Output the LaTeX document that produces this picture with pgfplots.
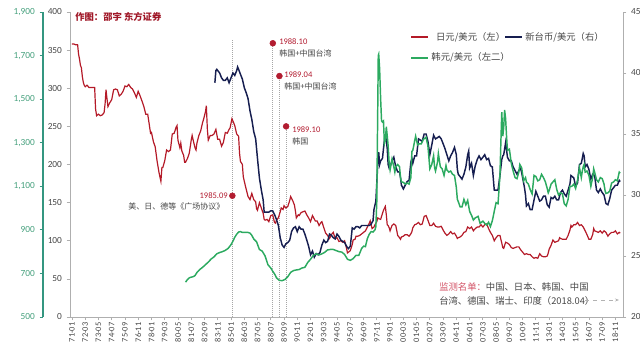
\documentclass[border=0pt]{standalone}
\usepackage{pgfplots}
\pgfplotsset{compat=1.18}
\usepackage{pgfplotstable}
\usetikzlibrary{arrows.meta}
\usepackage{fontspec}
\setmainfont{Carlito}
\newfontfamily\cjk{Noto Sans CJK SC}
\definecolor{jpy}{RGB}{180,26,40}
\definecolor{twd}{RGB}{22,30,80}
\definecolor{krw}{RGB}{44,170,96}
\definecolor{krwaxis}{RGB}{52,150,128}
\definecolor{krwlab}{RGB}{70,160,125}
\definecolor{axgray}{RGB}{175,175,175}
\definecolor{txtgray}{RGB}{70,70,70}
\definecolor{dotred}{RGB}{178,28,48}
\definecolor{notered}{RGB}{210,80,100}
\definecolor{titlered}{RGB}{160,24,40}

\pgfplotstableread{
x y
1971.00 358
1971.17 358
1971.33 357
1971.50 357
1971.58 345
1971.67 338
1971.75 330
1971.83 327
1971.92 315
1972.00 308
1972.08 304
1972.17 302
1972.33 304
1972.50 301
1972.67 301
1972.83 301
1973.00 301
1973.08 273
1973.17 264
1973.33 266
1973.50 264
1973.67 265
1973.83 268
1973.92 280
1974.00 298
1974.08 287
1974.17 276
1974.33 281
1974.50 285
1974.67 298
1974.83 299
1975.00 298
1975.17 290
1975.33 292
1975.50 296
1975.67 303
1975.83 302
1976.00 305
1976.17 301
1976.33 299
1976.50 294
1976.67 288
1976.83 296
1977.00 290
1977.17 283
1977.33 276
1977.50 266
1977.67 266
1977.83 250
1977.92 241
1978.00 242
1978.17 230
1978.33 223
1978.50 204
1978.67 189
1978.83 178
1978.92 196
1979.00 196
1979.17 205
1979.33 219
1979.50 217
1979.67 219
1979.83 240
1980.00 241
1980.17 249
1980.25 251
1980.33 232
1980.50 222
1980.58 228
1980.67 218
1980.83 212
1980.92 203
1981.00 203
1981.17 208
1981.33 215
1981.50 232
1981.58 238
1981.67 232
1981.83 222
1981.92 219
1982.00 228
1982.17 238
1982.33 244
1982.50 255
1982.58 259
1982.75 269
1982.83 277
1982.92 246
1983.00 232
1983.17 238
1983.33 238
1983.50 240
1983.67 246
1983.83 233
1984.00 233
1984.17 224
1984.33 229
1984.50 242
1984.67 241
1984.83 246
1984.92 248
1985.00 254
1985.08 260
1985.17 257
1985.33 251
1985.50 240
1985.67 237
1985.75 215
1985.83 204
1985.92 202
1986.00 200
1986.08 184
1986.17 178
1986.33 168
1986.50 158
1986.67 154
1986.83 162
1987.00 154
1987.17 151
1987.25 142
1987.33 140
1987.50 150
1987.67 143
1987.83 136
1987.92 128
1988.00 127
1988.17 128
1988.33 125
1988.50 133
1988.67 134
1988.83 124
1988.92 123
1989.00 127
1989.17 130
1989.33 138
1989.42 143
1989.58 141
1989.67 146
1989.83 143
1990.00 145
1990.17 153
1990.25 158
1990.42 153
1990.58 147
1990.67 139
1990.75 130
1990.92 134
1991.00 133
1991.17 137
1991.33 138
1991.50 139
1991.67 134
1991.83 130
1992.00 125
1992.17 133
1992.42 126
1992.58 126
1992.75 120
1992.92 124
1993.00 125
1993.17 117
1993.33 110
1993.50 107
1993.67 103
1993.83 108
1994.00 111
1994.17 103
1994.33 104
1994.50 99
1994.67 100
1994.83 98
1995.00 100
1995.17 90
1995.25 84
1995.33 85
1995.50 87
1995.67 95
1995.75 101
1995.92 102
1996.00 106
1996.17 106
1996.33 107
1996.50 109
1996.67 111
1996.83 113
1997.00 118
1997.17 123
1997.25 126
1997.42 116
1997.58 118
1997.67 121
1997.83 125
1997.92 130
1998.00 129
1998.17 128
1998.25 132
1998.42 140
1998.58 145
1998.67 134
1998.75 121
1998.83 120
1998.92 117
1999.00 113
1999.17 120
1999.33 122
1999.50 120
1999.58 114
1999.67 107
1999.83 104
1999.92 102
2000.00 105
2000.17 106
2000.33 108
2000.50 108
2000.67 106
2000.83 109
2000.92 112
2001.00 117
2001.17 121
2001.33 122
2001.50 124
2001.67 121
2001.83 122
2001.92 127
2002.00 132
2002.17 133
2002.33 127
2002.50 120
2002.67 120
2002.83 123
2003.00 119
2003.17 118
2003.33 118
2003.50 119
2003.67 114
2003.83 110
2004.00 107
2004.17 109
2004.33 112
2004.50 109
2004.67 110
2004.83 106
2004.92 103
2005.00 104
2005.17 105
2005.33 107
2005.50 111
2005.67 112
2005.83 118
2006.00 116
2006.17 118
2006.33 113
2006.50 116
2006.67 118
2006.83 118
2007.00 121
2007.17 118
2007.33 121
2007.50 122
2007.67 116
2007.83 111
2008.00 107
2008.17 100
2008.33 104
2008.50 107
2008.67 107
2008.83 97
2008.92 91
2009.00 90
2009.17 98
2009.33 97
2009.50 95
2009.67 91
2009.83 90
2010.00 91
2010.17 92
2010.33 92
2010.50 88
2010.67 85
2010.83 82
2011.00 83
2011.17 82
2011.33 82
2011.50 79
2011.67 77
2011.83 78
2012.00 77
2012.17 83
2012.33 80
2012.50 79
2012.67 79
2012.83 80
2012.92 84
2013.00 89
2013.17 94
2013.33 101
2013.50 98
2013.67 99
2013.83 100
2013.92 104
2014.00 103
2014.17 102
2014.33 102
2014.50 102
2014.67 107
2014.83 114
2014.92 120
2015.00 118
2015.17 121
2015.33 121
2015.50 124
2015.67 120
2015.83 121
2016.00 118
2016.17 113
2016.33 108
2016.50 102
2016.67 102
2016.83 108
2016.92 116
2017.00 113
2017.17 112
2017.33 111
2017.50 113
2017.67 110
2017.83 113
2018.00 111
2018.17 106
2018.33 109
2018.50 111
2018.67 111
2018.83 113
2019.00 109
2019.17 111
2019.25 110
}\jpydata

\pgfplotstableread{
x y
1981.00 660
1981.17 672
1981.33 680
1981.50 683
1981.67 685
1981.83 690
1982.00 704
1982.25 718
1982.50 728
1982.75 740
1983.00 752
1983.25 766
1983.50 776
1983.75 790
1984.00 796
1984.25 800
1984.50 806
1984.75 815
1985.00 832
1985.17 848
1985.33 866
1985.50 880
1985.67 890
1985.83 892
1986.00 888
1986.25 888
1986.50 888
1986.67 885
1986.83 875
1987.00 858
1987.25 845
1987.50 810
1987.75 802
1988.00 780
1988.25 740
1988.50 725
1988.67 710
1988.83 698
1989.00 680
1989.25 668
1989.50 667
1989.75 672
1990.00 685
1990.25 705
1990.50 713
1990.75 716
1991.00 718
1991.25 725
1991.50 728
1991.75 750
1992.00 765
1992.25 783
1992.50 790
1992.75 785
1993.00 790
1993.25 797
1993.50 808
1993.75 810
1994.00 810
1994.25 805
1994.50 800
1994.75 798
1995.00 787
1995.25 765
1995.50 760
1995.75 768
1996.00 783
1996.25 783
1996.50 815
1996.67 825
1996.83 823
1997.00 860
1997.17 880
1997.33 892
1997.50 890
1997.67 900
1997.75 915
1997.83 1030
1997.92 1485
1997.96 1700
1998.00 1706
1998.08 1640
1998.17 1500
1998.25 1400
1998.33 1395
1998.42 1400
1998.50 1296
1998.58 1310
1998.67 1373
1998.75 1332
1998.83 1286
1998.92 1206
1999.00 1175
1999.17 1225
1999.33 1190
1999.42 1165
1999.50 1190
1999.67 1200
1999.83 1190
1999.92 1140
2000.00 1120
2000.17 1118
2000.33 1110
2000.50 1115
2000.67 1110
2000.83 1140
2000.92 1260
2001.00 1265
2001.17 1310
2001.25 1330
2001.42 1290
2001.58 1295
2001.75 1295
2001.92 1315
2002.17 1325
2002.33 1285
2002.50 1180
2002.67 1200
2002.83 1240
2002.92 1185
2003.00 1170
2003.17 1210
2003.25 1250
2003.42 1190
2003.58 1180
2003.75 1150
2003.92 1195
2004.00 1175
2004.17 1165
2004.33 1170
2004.50 1155
2004.67 1150
2004.83 1095
2004.92 1040
2005.00 1030
2005.17 1005
2005.33 1005
2005.50 1040
2005.67 1015
2005.83 1035
2006.00 985
2006.17 967
2006.33 945
2006.50 955
2006.75 962
2006.92 930
2007.17 940
2007.33 930
2007.50 922
2007.67 935
2007.83 915
2008.00 942
2008.17 985
2008.33 1025
2008.50 1020
2008.58 1080
2008.67 1150
2008.75 1300
2008.83 1440
2008.92 1330
2009.00 1370
2009.08 1450
2009.17 1410
2009.25 1330
2009.33 1265
2009.50 1270
2009.58 1240
2009.67 1205
2009.83 1170
2010.00 1140
2010.17 1135
2010.33 1165
2010.42 1200
2010.58 1185
2010.75 1125
2010.92 1140
2011.00 1120
2011.17 1110
2011.33 1085
2011.50 1065
2011.67 1150
2011.83 1145
2012.00 1125
2012.17 1130
2012.33 1155
2012.50 1140
2012.67 1120
2012.83 1090
2012.92 1070
2013.00 1080
2013.17 1110
2013.33 1120
2013.50 1130
2013.67 1085
2013.83 1060
2014.00 1070
2014.17 1065
2014.33 1020
2014.50 1010
2014.67 1040
2014.83 1100
2015.00 1100
2015.17 1110
2015.33 1090
2015.50 1130
2015.67 1185
2015.83 1140
2015.92 1170
2016.00 1190
2016.08 1200
2016.17 1165
2016.33 1170
2016.50 1150
2016.67 1100
2016.83 1140
2016.92 1180
2017.00 1165
2017.17 1130
2017.33 1120
2017.50 1140
2017.67 1135
2017.83 1110
2017.92 1080
2018.00 1067
2018.17 1070
2018.33 1078
2018.50 1115
2018.67 1120
2018.83 1130
2019.00 1125
2019.17 1165
2019.25 1160
}\krwdata

\pgfplotstableread{
x y
1983.58 39.2
1983.67 40.2
1983.75 40.3
1983.83 40.2
1984.00 40.0
1984.17 39.6
1984.33 39.4
1984.50 39.4
1984.67 39.6
1984.83 39.2
1985.00 39.6
1985.17 40.0
1985.33 39.8
1985.50 40.2
1985.58 40.5
1985.67 40.3
1985.83 39.9
1986.00 39.5
1986.17 38.8
1986.33 38.4
1986.50 37.9
1986.67 36.9
1986.83 36.2
1987.00 35.2
1987.17 34.6
1987.33 33.0
1987.50 31.4
1987.67 30.4
1987.83 29.6
1987.92 28.6
1988.17 28.6
1988.33 28.6
1988.50 28.7
1988.67 28.7
1988.83 28.4
1989.00 28.0
1989.17 27.5
1989.33 26.5
1989.50 25.9
1989.67 25.7
1989.83 26.0
1990.00 26.1
1990.17 26.3
1990.33 27.0
1990.50 27.3
1990.67 27.4
1990.83 27.0
1991.00 27.4
1991.17 27.2
1991.33 27.2
1991.50 26.8
1991.67 26.3
1991.83 25.8
1992.00 25.1
1992.17 25.4
1992.33 24.9
1992.50 25.2
1992.67 25.1
1992.83 25.3
1993.00 25.9
1993.17 26.3
1993.33 26.1
1993.50 26.2
1993.67 26.8
1993.83 26.7
1994.00 26.5
1994.17 26.4
1994.33 26.8
1994.50 26.6
1994.67 26.3
1994.83 26.2
1995.00 26.1
1995.17 25.8
1995.33 25.6
1995.50 25.8
1995.58 26.5
1995.67 27.3
1995.83 27.2
1996.00 27.4
1996.17 27.4
1996.33 27.3
1996.50 27.5
1996.67 27.5
1996.83 27.5
1997.00 27.5
1997.17 27.5
1997.33 27.6
1997.50 27.9
1997.58 28.8
1997.75 29.5
1997.83 31.0
1997.92 32.6
1998.00 33.5
1998.08 32.5
1998.17 32.8
1998.33 33.0
1998.50 34.5
1998.58 34.8
1998.67 34.5
1998.75 33.8
1998.83 32.5
1998.92 32.2
1999.00 32.3
1999.17 32.8
1999.33 33.1
1999.50 32.3
1999.67 31.9
1999.83 31.9
1999.92 31.4
2000.00 30.8
2000.17 30.5
2000.33 30.8
2000.50 31.1
2000.67 31.2
2000.83 32.7
2000.92 33.0
2001.00 32.6
2001.17 33.2
2001.33 33.2
2001.50 34.6
2001.67 34.5
2001.83 34.4
2002.00 35.0
2002.17 35.0
2002.33 34.4
2002.50 33.3
2002.67 34.1
2002.83 34.9
2003.00 34.6
2003.17 34.7
2003.33 34.8
2003.50 34.6
2003.67 34.2
2003.83 33.8
2004.00 33.3
2004.17 32.8
2004.33 33.2
2004.50 33.5
2004.67 33.9
2004.83 33.3
2004.92 32.1
2005.00 31.7
2005.17 31.5
2005.33 31.3
2005.50 31.7
2005.67 32.3
2005.83 33.3
2005.92 33.6
2006.00 32.2
2006.17 32.6
2006.33 31.6
2006.50 32.4
2006.67 32.9
2006.83 33.2
2007.00 32.9
2007.17 33.1
2007.33 33.3
2007.50 32.9
2007.67 33.0
2007.83 32.4
2008.00 32.3
2008.17 30.4
2008.33 30.4
2008.50 30.4
2008.67 31.6
2008.83 32.9
2008.92 33.2
2009.00 33.3
2009.17 34.3
2009.33 33.1
2009.50 32.8
2009.67 32.8
2009.83 32.3
2010.00 32.0
2010.17 31.7
2010.33 32.0
2010.50 32.2
2010.67 31.4
2010.83 30.6
2010.92 30.0
2011.00 29.1
2011.17 29.3
2011.33 28.8
2011.50 28.8
2011.67 29.6
2011.83 30.3
2012.00 29.9
2012.17 29.5
2012.33 29.6
2012.50 29.9
2012.67 29.9
2012.83 29.2
2013.00 29.0
2013.17 29.8
2013.33 29.7
2013.50 29.9
2013.67 29.6
2013.83 29.6
2014.00 30.2
2014.17 30.4
2014.33 30.1
2014.50 29.9
2014.67 30.4
2014.83 30.9
2014.92 31.6
2015.17 31.4
2015.33 30.7
2015.50 31.0
2015.67 32.5
2015.83 32.6
2016.00 33.4
2016.08 33.2
2016.17 32.3
2016.33 32.5
2016.50 32.1
2016.67 31.3
2016.83 31.7
2017.00 31.6
2017.17 30.4
2017.33 30.2
2017.50 30.5
2017.67 30.2
2017.83 30.0
2018.00 29.3
2018.17 29.2
2018.33 29.7
2018.50 30.4
2018.67 30.6
2018.83 30.8
2019.00 30.8
2019.17 31.2
2019.25 31.1
}\twddata

\pgfplotsset{
  myaxis/.style={
    scale only axis, width=414.75pt, height=228.75pt,
    at={(52.5pt,33pt)}, anchor=south west,
    xmin=1970.83, xmax=2019.5,
    /pgf/number format/assume math mode=true,
    /pgf/number format/1000 sep={,},
  },
  ticklab/.style={font=\fontsize{7}{8}\selectfont},
}

\begin{document}
\begin{tikzpicture}
\useasboundingbox (0,0) rectangle (480pt,270.75pt);

% JPY main axis
\begin{axis}[myaxis,
  ymin=0, ymax=400,
  axis x line*=bottom, axis y line*=left,
  axis line style={-, draw=axgray, line width=0.6pt},
  tick style={draw=axgray, line width=0.5pt},
  tick align=outside, major tick length=2.5pt,
  ytick={0,50,...,400},
  xtick={1971,1972.1666667,...,2018.9},
  xticklabels={71-01,72-03,73-05,74-07,75-09,76-11,78-01,79-03,80-05,81-07,82-09,83-11,85-01,86-03,87-05,88-07,89-09,90-11,92-01,93-03,94-05,95-07,96-09,97-11,99-01,00-03,01-05,02-07,03-09,04-11,06-01,07-03,08-05,09-07,10-09,11-11,13-01,14-03,15-05,16-07,17-09,18-11},
  xticklabel style={rotate=90, anchor=east, font=\fontsize{6.3}{7}\selectfont, text=txtgray, inner sep=1.5pt},
  yticklabel style={ticklab, text=txtgray},
  legend style={at={(rel axis cs:0.608,0.952)}, anchor=north west, draw=none, fill=none,
     font=\cjk\fontsize{7}{8.5}\selectfont, legend columns=2, row sep=4pt,
     /tikz/every even column/.style={column sep=-6pt}, text=txtgray},
  legend image code/.code={\draw[#1] (0pt,0pt) -- (12.5pt,0pt);},
]
\addlegendimage{jpy, line width=1.2pt}
\addlegendentry{日元/美元（左）}
\addlegendimage{twd, line width=1.2pt}
\addlegendentry{新台币/美元（右）}
\addlegendimage{krw, line width=1.2pt}
\addlegendentry{韩元/美元（左二）}
% annotation guide lines
\addplot[gray!70, densely dotted, line width=0.5pt] coordinates {(1985.12,0) (1985.12,363)};
\addplot[gray!70, densely dotted, line width=0.5pt] coordinates {(1988.68,0) (1988.68,359)};
\addplot[gray!70, densely dotted, line width=0.5pt] coordinates {(1989.26,0) (1989.26,316)};
\addplot[gray!70, densely dotted, line width=0.5pt] coordinates {(1989.85,0) (1989.85,250)};
\addplot[jpy, line width=0.9pt] table[x=x,y=y] {\jpydata};
\addplot[only marks, mark=*, mark size=2.2pt, color=dotred] coordinates {(1985.12,159) (1988.68,359) (1989.26,316) (1989.85,250)};
\end{axis}

% TWD right axis
\begin{axis}[myaxis,
  ymin=20, ymax=45,
  axis y line*=right, axis x line=none,
  axis line style={-, draw=axgray, line width=0.6pt},
  tick style={draw=axgray, line width=0.5pt},
  tick align=outside, major tick length=2.5pt,
  ytick={20,25,...,45},
  yticklabel style={ticklab, text=txtgray},
]
\addplot[twd, line width=1.1pt] table[x=x,y=y] {\twddata};
\end{axis}

% KRW data axis
\begin{axis}[myaxis, ymin=500, ymax=1900, hide axis]
\addplot[krw, line width=1.1pt] table[x=x,y=y] {\krwdata};
\end{axis}

% KRW outer axis
\begin{axis}[scale only axis, width=0.1pt, height=228.75pt,
  at={(32.25pt,33pt)}, anchor=south west,
  xmin=0, xmax=1, ymin=500, ymax=1900,
  axis y line=left, axis x line=none,
  axis line style={-, draw=krwaxis, line width=0.8pt},
  tick style={draw=krwaxis, line width=0.6pt},
  tick align=outside, major tick length=2.5pt,
  ytick={500,700,...,1900},
  /pgf/number format/assume math mode=true,
  /pgf/number format/1000 sep={,},
  yticklabel style={ticklab, text=krwlab},
]
\addplot[draw=none] coordinates {(0,500)};
\end{axis}

\begin{scope}[x=0.75pt, y=-0.75pt, yshift=270.75pt]
\node[anchor=west, inner sep=0, text=titlered] at (75,17) {\cjk\bfseries\fontsize{7}{8}\selectfont 作图：邵宇\ 东方证券};
\node[anchor=east, inner sep=0, text=dotred] at (228,196) {\fontsize{6.4}{7}\selectfont 1985.09};
\node[anchor=west, inner sep=0, text=txtgray] at (128,206) {\cjk\fontsize{6}{7}\selectfont 美、日、德等《广场协议》};
\node[anchor=west, inner sep=0, text=dotred] at (279,42) {\fontsize{6.4}{7}\selectfont 1988.10};
\node[anchor=west, inner sep=0, text=txtgray] at (279,53) {\cjk\fontsize{6}{7}\selectfont 韩国+中国台湾};
\node[anchor=west, inner sep=0, text=dotred] at (284,75) {\fontsize{6.4}{7}\selectfont 1989.04};
\node[anchor=west, inner sep=0, text=txtgray] at (284,86) {\cjk\fontsize{6}{7}\selectfont 韩国+中国台湾};
\node[anchor=west, inner sep=0, text=dotred] at (292,130) {\fontsize{6.4}{7}\selectfont 1989.10};
\node[anchor=west, inner sep=0, text=txtgray] at (292,141) {\cjk\fontsize{6}{7}\selectfont 韩国};
\node[anchor=west, inner sep=0, text=txtgray] at (439,287) {\cjk\fontsize{7}{8}\selectfont \textcolor{notered}{监测名单：}中国、日本、韩国、中国};
\node[anchor=west, inner sep=0, text=txtgray] at (439,301) {\cjk\fontsize{7}{8}\selectfont 台湾、德国、瑞士、印度（2018.04）};
\draw[gray!60, dashed, line width=0.5pt, -{Stealth[length=3pt]}] (585,300) -- (619,300);
\end{scope}
\end{tikzpicture}
\end{document}
